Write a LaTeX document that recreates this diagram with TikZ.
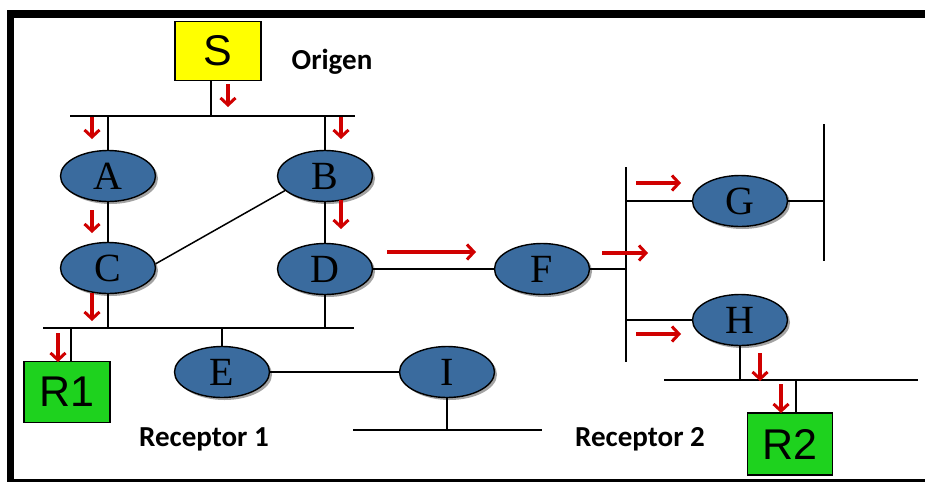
\documentclass[tikz,border=0pt]{standalone}
\usepackage{fontspec}
\newfontfamily\labelfont{Carlito}
\newfontfamily\boxfont{Liberation Sans}
\newfontfamily\routerfont{Liberation Serif}
\usepackage{tikz}
\usetikzlibrary{arrows.meta,shapes.geometric,shadows}

\definecolor{nodeblue}{HTML}{3A6B9E}
\definecolor{srcyellow}{HTML}{FFFF00}
\definecolor{recvgreen}{HTML}{1ED21E}
\definecolor{flowred}{HTML}{D00000}

\begin{document}
\begin{tikzpicture}[
  x=1pt, y=-1pt,
  router/.style={ellipse, draw, line width=1.4pt, fill=nodeblue, minimum width=95pt, minimum height=51pt, inner sep=0pt,
    font=\routerfont\fontsize{40}{40}\selectfont, drop shadow={shadow xshift=2.5pt, shadow yshift=-2.5pt, fill=black!60, opacity=0.6}},
  host/.style={draw, line width=1.2pt, inner sep=0pt, font=\boxfont\fontsize{43}{43}\selectfont},
  bus/.style={line width=2.6pt},
  wire/.style={line width=1.5pt},
  flow/.style={flowred, line width=3.4pt, -{Straight Barb[length=7pt, width=15pt, line width=3pt]}},
  caption/.style={font=\labelfont\bfseries\fontsize{29}{29}\selectfont}
]
\useasboundingbox (0,0) rectangle (925,482);

% frame
\fill (7,10) rectangle (925,18);
\fill (7,10) rectangle (14,482);
\fill (7,479) rectangle (925,482);

% end hosts
\node[host, fill=srcyellow, minimum width=86pt, minimum height=59pt] (S) at (218,51) {S};
\node[host, fill=recvgreen, minimum width=86pt, minimum height=61pt] (R1) at (67,392) {R1};
\node[host, fill=recvgreen, minimum width=85pt, minimum height=62pt] (R2) at (790,444) {R2};

\node[caption] (origen) at (332,62) {Origen};
\node[caption] (rec1) at (204,439) {Receptor 1};
\node[caption] (rec2) at (640,439) {Receptor 2};

% routers
\node[router] (A) at (108,176) {A};
\node[router] (B) at (325,176) {B};
\node[router] (C) at (108,268) {C};
\node[router] (D) at (325,269) {D};
\node[router] (E) at (222,372) {E};
\node[router] (I) at (447,372) {I};
\node[router] (F) at (542,269) {F};
\node[router] (G) at (740,201) {G};
\node[router] (H) at (740,320) {H};

% bus ends
\coordinate (top1) at (70,116);   \coordinate (top2) at (355,116);
\coordinate (mid1) at (43,328);   \coordinate (mid2) at (354,328);
\coordinate (low1) at (353,430);  \coordinate (low2) at (542,430);
\coordinate (vert1) at (626,167); \coordinate (vert2) at (626,362);
\coordinate (gend1) at (824,124); \coordinate (gend2) at (824,261);
\coordinate (rgt1) at (664,380);  \coordinate (rgt2) at (918,380);

\draw[bus] (top1) -- (top2);
\draw[bus] (mid1) -- (mid2);
\draw[wire] (low1) -- (low2);
\draw[wire] (vert1) -- (vert2);
\draw[wire] (gend1) -- (gend2);
\draw[wire] (rgt1) -- (rgt2);

% links
\draw[bus] ([xshift=-7pt]S.south) -- ([xshift=-7pt]S.south |- top1);
\draw[wire] (A.north) -- (A.north |- top1);
\draw[wire] (B.north) -- (B.north |- top1);
\draw[wire] (A) -- (C);
\draw[bus] (B) -- (D);
\draw[wire] (B.200) -- (C.5);
\draw[wire] (C.south) -- (C.south |- mid1);
\draw[bus] (D.south) -- (D.south |- mid1);
\draw[wire] (E.north) -- (E.north |- mid1);
\draw[bus] ([xshift=4pt]R1.north) -- ([xshift=4pt]R1.north |- mid1);
\draw[wire] (E) -- (I);
\draw[wire] (I.south) -- (I.south |- low1);
\draw[wire] (D.east) -- (F.west);
\draw[wire] (F.east) -- (F.east -| vert1);
\draw[wire] (G.west -| vert1) -- (G.west);
\draw[wire] (G.east) -- (G.east -| gend1);
\draw[wire] (H.west -| vert1) -- (H.west);
\draw[wire] (H.south) -- (H.south |- rgt1);
\draw[bus] ([xshift=6pt]R2.north) -- ([xshift=6pt]R2.north |- rgt1);

% packet flow
\draw[flow] (228,84) -- (228,107);
\draw[flow] (92,117) -- (92,139);
\draw[flow] (341,117) -- (341,139);
\draw[flow] (92,210) -- (92,233);
\draw[flow] (341,200) -- (341,229);
\draw[flow] (92,293) -- (92,321);
\draw[flow] (58,333) -- (58,362);
\draw[flow] (387,252) -- (476,252);
\draw[flow] (602,253) -- (648,253);
\draw[flow] (636,183) -- (681,183);
\draw[flow] (636,334) -- (681,334);
\draw[flow] (760,353) -- (760,381);
\draw[flow] (781,384) -- (781,413);
\end{tikzpicture}
\end{document}
